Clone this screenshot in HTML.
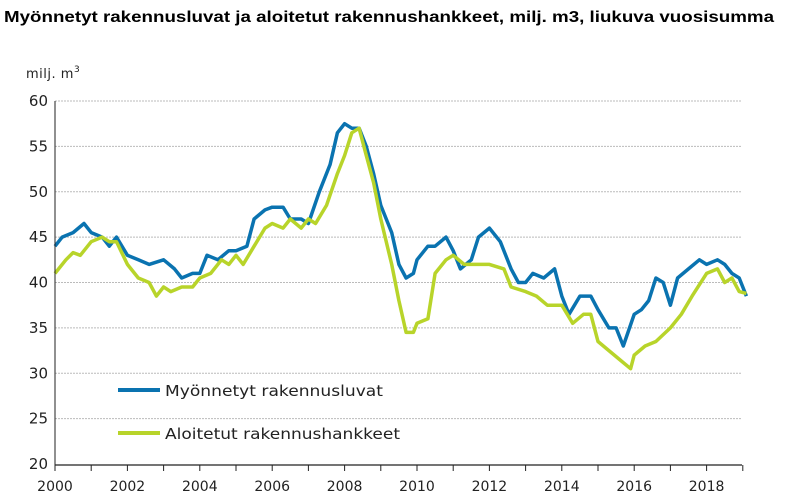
<!DOCTYPE html><html><head><meta charset="utf-8"><style>body{margin:0;background:#fff}svg{display:block}</style></head><body>
<svg id="s" width="785" height="504" xmlns="http://www.w3.org/2000/svg" font-family="Liberation Sans, sans-serif">
<text x="4" y="22" font-size="16" font-weight="bold" fill="#000" textLength="770" lengthAdjust="spacingAndGlyphs">Myönnetyt rakennusluvat ja aloitetut rakennushankkeet, milj. m3, liukuva vuosisumma</text>
<text x="26" y="78" font-size="13" fill="#222" font-family="DejaVu Sans, sans-serif" letter-spacing="0.5">milj. m<tspan font-size="9" dy="-6">3</tspan></text>
<g id="g"></g>
<line x1="55" y1="101" x2="55" y2="465" stroke="#222" stroke-width="1"/>
<line x1="55" y1="465" x2="742" y2="465" stroke="#222" stroke-width="1.2"/>
<line x1="118" y1="390" x2="160" y2="390" stroke="#0a73b0" stroke-width="4"/>
<text x="165" y="396" font-size="15" fill="#222" font-family="DejaVu Sans, sans-serif" textLength="218" lengthAdjust="spacingAndGlyphs">Myönnetyt rakennusluvat</text>
<line x1="118" y1="433" x2="160" y2="433" stroke="#b8d42a" stroke-width="4"/>
<text x="165" y="439" font-size="15" fill="#222" font-family="DejaVu Sans, sans-serif" textLength="235" lengthAdjust="spacingAndGlyphs">Aloitetut rakennushankkeet</text>
</svg>
<script>
var g=document.getElementById('g'),h='';
function X(t){return 55+(t-2000)*36.2}function Y(v){return 464-(v-20)*9.075}
for(var v=20;v<=60;v+=5){var y=Y(v);if(v>20)h+='<line x1="55" y1="'+y+'" x2="742" y2="'+y+'" stroke="#bbb" stroke-dasharray="2,1" stroke-width="1"/>';h+='<text x="48" y="'+(y+5)+'" font-size="15" font-family="DejaVu Sans, sans-serif" text-anchor="end" fill="#222">'+v+'</text>';}
for(var t=2000;t<=2019;t++){var x=X(t);h+='<line x1="'+x+'" y1="465" x2="'+x+'" y2="471" stroke="#222"/>';if(t%2==0&&t<2019)h+='<text x="'+x+'" y="491" font-size="14" font-family="DejaVu Sans, sans-serif" text-anchor="middle" fill="#222">'+t+'</text>';}
var B=[2000,44,2000.2,45,2000.5,45.5,2000.8,46.5,2001,45.5,2001.3,45,2001.5,44,2001.7,45,2002,43,2002.3,42.5,2002.6,42,2003,42.5,2003.3,41.5,2003.5,40.5,2003.8,41,2004,41,2004.2,43,2004.5,42.5,2004.8,43.5,2005,43.5,2005.3,44,2005.5,47,2005.8,48,2006,48.3,2006.3,48.3,2006.5,47,2006.8,47,2007,46.5,2007.3,50,2007.6,53,2007.8,56.5,2008,57.5,2008.2,57,2008.4,57,2008.6,55,2008.8,52,2009,48.5,2009.3,45.5,2009.5,42,2009.7,40.5,2009.9,41,2010,42.5,2010.3,44,2010.5,44,2010.8,45,2011,43.5,2011.2,41.5,2011.5,42.5,2011.7,45,2012,46,2012.3,44.5,2012.6,41.5,2012.8,40,2013,40,2013.2,41,2013.5,40.5,2013.8,41.5,2014,38.5,2014.2,36.5,2014.5,38.5,2014.8,38.5,2015,37,2015.3,35,2015.5,35,2015.7,33,2016,36.5,2016.2,37,2016.4,38,2016.6,40.5,2016.8,40,2017,37.5,2017.2,40.5,2017.5,41.5,2017.8,42.5,2018,42,2018.3,42.5,2018.5,42,2018.7,41,2018.9,40.5,2019.1,38.5];
var G=[2000,41,2000.3,42.5,2000.5,43.3,2000.7,43,2001,44.5,2001.3,45,2001.5,44.5,2001.7,44.5,2002,42,2002.3,40.5,2002.6,40,2002.8,38.5,2003,39.5,2003.2,39,2003.5,39.5,2003.8,39.5,2004,40.5,2004.3,41,2004.6,42.5,2004.8,42,2005,43,2005.2,42,2005.5,44,2005.8,46,2006,46.5,2006.3,46,2006.5,47,2006.8,46,2007,47,2007.2,46.5,2007.5,48.5,2007.8,52,2008,54,2008.2,56.5,2008.4,57,2008.6,54,2008.8,51,2009,47,2009.3,42,2009.5,38,2009.7,34.5,2009.9,34.5,2010,35.5,2010.3,36,2010.5,41,2010.8,42.5,2011,43,2011.3,42,2011.6,42,2012,42,2012.4,41.5,2012.6,39.5,2013,39,2013.3,38.5,2013.6,37.5,2014,37.5,2014.3,35.5,2014.6,36.5,2014.8,36.5,2015,33.5,2015.3,32.5,2015.6,31.5,2015.9,30.5,2016,32,2016.3,33,2016.6,33.5,2017,35,2017.3,36.5,2017.6,38.5,2018,41,2018.3,41.5,2018.5,40,2018.7,40.5,2018.9,39,2019.1,38.8];
function P(a,c){var p=[];for(var i=0;i<a.length;i+=2)p.push(X(a[i]).toFixed(1)+','+Y(a[i+1]).toFixed(1));return '<polyline points="'+p.join(' ')+'" fill="none" stroke="'+c+'" stroke-width="3.5" stroke-linejoin="round"/>';}
h+=P(B,'#0a73b0')+P(G,'#b8d42a');
g.innerHTML=h;
</script>
</body></html>
